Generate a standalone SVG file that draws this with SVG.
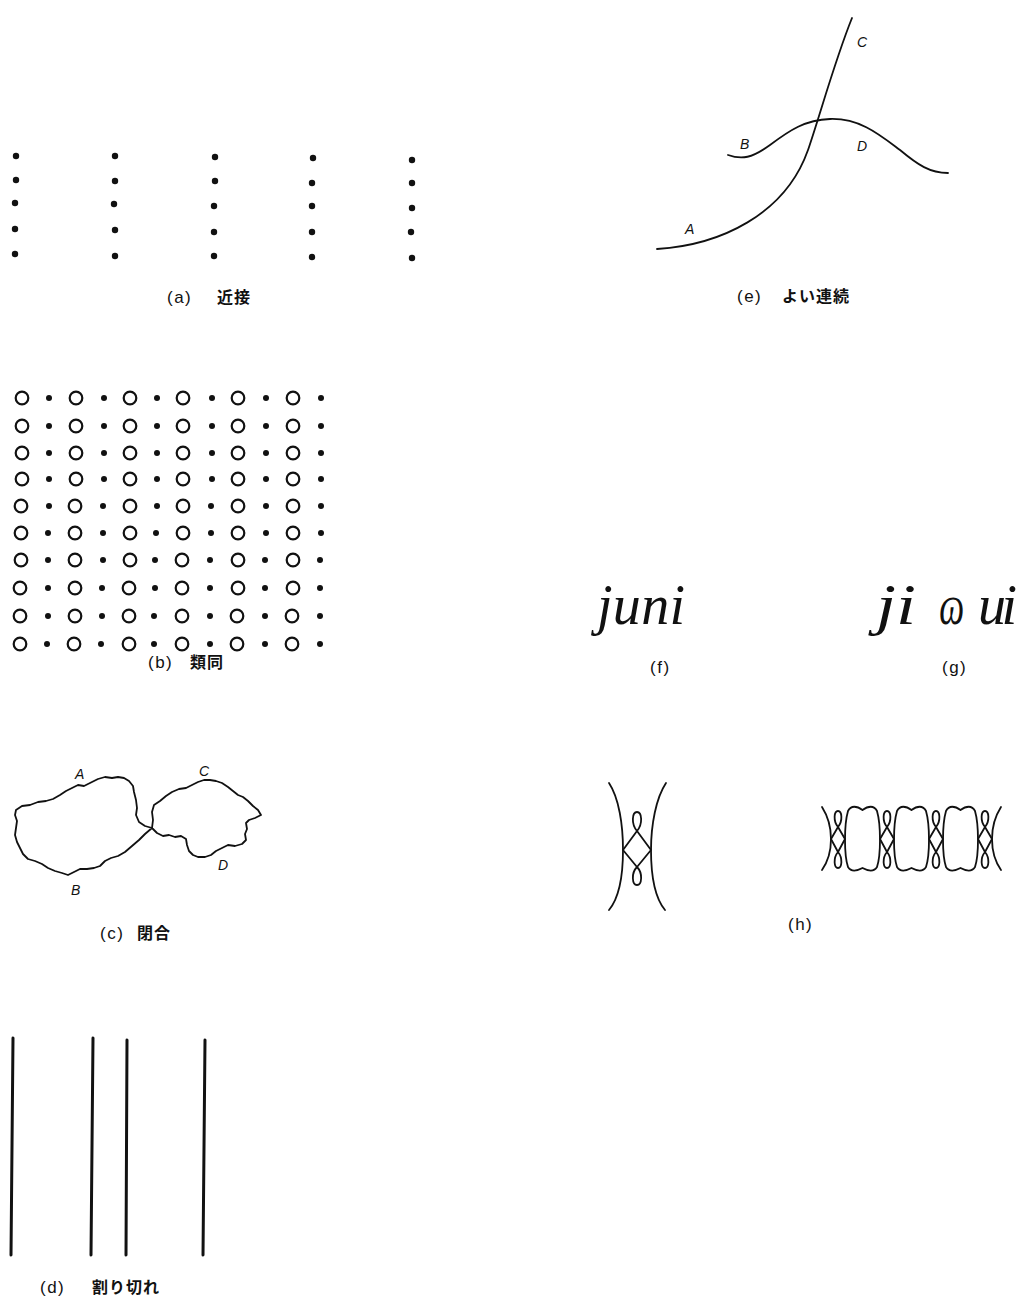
<svg xmlns="http://www.w3.org/2000/svg" width="1017" height="1315" viewBox="0 0 1017 1315">
<style>
.lbl{font-family:"Liberation Sans","Noto Sans CJK JP",sans-serif;font-size:17px;letter-spacing:1.5px;fill:#111}
.jp{font-family:"Noto Sans CJK JP",sans-serif;font-size:16px;letter-spacing:1px;fill:#111;font-weight:bold}
.let{font-family:"Liberation Sans",sans-serif;font-style:italic;font-size:14px;fill:#111}
.hw{font-family:"Liberation Serif","DejaVu Serif",serif;font-style:italic;font-size:56px;fill:#111}
.ln{fill:none;stroke:#111;stroke-width:1.8;stroke-linejoin:round;stroke-linecap:round}
.th{fill:none;stroke:#111;stroke-width:3;stroke-linecap:round}
.dot{fill:#111}
.ring{fill:none;stroke:#111;stroke-width:2.2}
</style>
<rect width="1017" height="1315" fill="#fff"/>

<g id="fig-a">
<circle class="dot" cx="16" cy="156" r="3.2"/><circle class="dot" cx="16" cy="180" r="3.2"/><circle class="dot" cx="15" cy="203" r="3.2"/><circle class="dot" cx="15" cy="229" r="3.2"/><circle class="dot" cx="15" cy="254" r="3.2"/>
<circle class="dot" cx="115" cy="156" r="3.2"/><circle class="dot" cx="115" cy="181" r="3.2"/><circle class="dot" cx="114" cy="204" r="3.2"/><circle class="dot" cx="115" cy="230" r="3.2"/><circle class="dot" cx="115" cy="256" r="3.2"/>
<circle class="dot" cx="215" cy="157" r="3.2"/><circle class="dot" cx="215" cy="181" r="3.2"/><circle class="dot" cx="214" cy="206" r="3.2"/><circle class="dot" cx="214" cy="232" r="3.2"/><circle class="dot" cx="214" cy="256" r="3.2"/>
<circle class="dot" cx="313" cy="158" r="3.2"/><circle class="dot" cx="312" cy="183" r="3.2"/><circle class="dot" cx="312" cy="206" r="3.2"/><circle class="dot" cx="312" cy="232" r="3.2"/><circle class="dot" cx="312" cy="257" r="3.2"/>
<circle class="dot" cx="412" cy="160" r="3.2"/><circle class="dot" cx="412" cy="183" r="3.2"/><circle class="dot" cx="412" cy="208" r="3.2"/><circle class="dot" cx="411" cy="232" r="3.2"/><circle class="dot" cx="412" cy="258" r="3.2"/>
<text class="lbl" x="167" y="303">(a)</text><text class="jp" x="217" y="303">近接</text>
</g>

<g id="fig-b">
<g id="b-rows">
<g transform="translate(0,398)"><circle class="ring" cx="22" cy="0" r="6.3"/><circle class="dot" cx="49" cy="0" r="3"/><circle class="ring" cx="76" cy="0" r="6.3"/><circle class="dot" cx="104" cy="0" r="3"/><circle class="ring" cx="130" cy="0" r="6.3"/><circle class="dot" cx="157" cy="0" r="3"/><circle class="ring" cx="183" cy="0" r="6.3"/><circle class="dot" cx="212" cy="0" r="3"/><circle class="ring" cx="238" cy="0" r="6.3"/><circle class="dot" cx="266" cy="0" r="3"/><circle class="ring" cx="293" cy="0" r="6.3"/><circle class="dot" cx="321" cy="0" r="3"/></g>
<g transform="translate(0,426)"><circle class="ring" cx="22" cy="0" r="6.3"/><circle class="dot" cx="49" cy="0" r="3"/><circle class="ring" cx="76" cy="0" r="6.3"/><circle class="dot" cx="104" cy="0" r="3"/><circle class="ring" cx="130" cy="0" r="6.3"/><circle class="dot" cx="157" cy="0" r="3"/><circle class="ring" cx="183" cy="0" r="6.3"/><circle class="dot" cx="212" cy="0" r="3"/><circle class="ring" cx="238" cy="0" r="6.3"/><circle class="dot" cx="266" cy="0" r="3"/><circle class="ring" cx="293" cy="0" r="6.3"/><circle class="dot" cx="321" cy="0" r="3"/></g>
<g transform="translate(0,453)"><circle class="ring" cx="22" cy="0" r="6.3"/><circle class="dot" cx="49" cy="0" r="3"/><circle class="ring" cx="76" cy="0" r="6.3"/><circle class="dot" cx="104" cy="0" r="3"/><circle class="ring" cx="130" cy="0" r="6.3"/><circle class="dot" cx="157" cy="0" r="3"/><circle class="ring" cx="183" cy="0" r="6.3"/><circle class="dot" cx="212" cy="0" r="3"/><circle class="ring" cx="238" cy="0" r="6.3"/><circle class="dot" cx="266" cy="0" r="3"/><circle class="ring" cx="293" cy="0" r="6.3"/><circle class="dot" cx="321" cy="0" r="3"/></g>
<g transform="translate(0,479)"><circle class="ring" cx="22" cy="0" r="6.3"/><circle class="dot" cx="49" cy="0" r="3"/><circle class="ring" cx="76" cy="0" r="6.3"/><circle class="dot" cx="104" cy="0" r="3"/><circle class="ring" cx="130" cy="0" r="6.3"/><circle class="dot" cx="157" cy="0" r="3"/><circle class="ring" cx="183" cy="0" r="6.3"/><circle class="dot" cx="212" cy="0" r="3"/><circle class="ring" cx="238" cy="0" r="6.3"/><circle class="dot" cx="266" cy="0" r="3"/><circle class="ring" cx="293" cy="0" r="6.3"/><circle class="dot" cx="321" cy="0" r="3"/></g>
<g transform="translate(0,506)"><circle class="ring" cx="21" cy="0" r="6.3"/><circle class="dot" cx="49" cy="0" r="3"/><circle class="ring" cx="75" cy="0" r="6.3"/><circle class="dot" cx="103" cy="0" r="3"/><circle class="ring" cx="130" cy="0" r="6.3"/><circle class="dot" cx="157" cy="0" r="3"/><circle class="ring" cx="183" cy="0" r="6.3"/><circle class="dot" cx="211" cy="0" r="3"/><circle class="ring" cx="238" cy="0" r="6.3"/><circle class="dot" cx="266" cy="0" r="3"/><circle class="ring" cx="293" cy="0" r="6.3"/><circle class="dot" cx="321" cy="0" r="3"/></g>
<g transform="translate(0,533)"><circle class="ring" cx="21" cy="0" r="6.3"/><circle class="dot" cx="48" cy="0" r="3"/><circle class="ring" cx="75" cy="0" r="6.3"/><circle class="dot" cx="103" cy="0" r="3"/><circle class="ring" cx="130" cy="0" r="6.3"/><circle class="dot" cx="156" cy="0" r="3"/><circle class="ring" cx="183" cy="0" r="6.3"/><circle class="dot" cx="211" cy="0" r="3"/><circle class="ring" cx="238" cy="0" r="6.3"/><circle class="dot" cx="266" cy="0" r="3"/><circle class="ring" cx="293" cy="0" r="6.3"/><circle class="dot" cx="321" cy="0" r="3"/></g>
<g transform="translate(0,560)"><circle class="ring" cx="21" cy="0" r="6.3"/><circle class="dot" cx="48" cy="0" r="3"/><circle class="ring" cx="75" cy="0" r="6.3"/><circle class="dot" cx="103" cy="0" r="3"/><circle class="ring" cx="130" cy="0" r="6.3"/><circle class="dot" cx="155" cy="0" r="3"/><circle class="ring" cx="182" cy="0" r="6.3"/><circle class="dot" cx="210" cy="0" r="3"/><circle class="ring" cx="238" cy="0" r="6.3"/><circle class="dot" cx="265" cy="0" r="3"/><circle class="ring" cx="293" cy="0" r="6.3"/><circle class="dot" cx="320" cy="0" r="3"/></g>
<g transform="translate(0,588)"><circle class="ring" cx="20" cy="0" r="6.3"/><circle class="dot" cx="48" cy="0" r="3"/><circle class="ring" cx="75" cy="0" r="6.3"/><circle class="dot" cx="102" cy="0" r="3"/><circle class="ring" cx="129" cy="0" r="6.3"/><circle class="dot" cx="155" cy="0" r="3"/><circle class="ring" cx="182" cy="0" r="6.3"/><circle class="dot" cx="210" cy="0" r="3"/><circle class="ring" cx="238" cy="0" r="6.3"/><circle class="dot" cx="265" cy="0" r="3"/><circle class="ring" cx="293" cy="0" r="6.3"/><circle class="dot" cx="320" cy="0" r="3"/></g>
<g transform="translate(0,616)"><circle class="ring" cx="20" cy="0" r="6.3"/><circle class="dot" cx="48" cy="0" r="3"/><circle class="ring" cx="75" cy="0" r="6.3"/><circle class="dot" cx="102" cy="0" r="3"/><circle class="ring" cx="129" cy="0" r="6.3"/><circle class="dot" cx="154" cy="0" r="3"/><circle class="ring" cx="182" cy="0" r="6.3"/><circle class="dot" cx="210" cy="0" r="3"/><circle class="ring" cx="237" cy="0" r="6.3"/><circle class="dot" cx="265" cy="0" r="3"/><circle class="ring" cx="292" cy="0" r="6.3"/><circle class="dot" cx="320" cy="0" r="3"/></g>
<g transform="translate(0,644)"><circle class="ring" cx="20" cy="0" r="6.3"/><circle class="dot" cx="47" cy="0" r="3"/><circle class="ring" cx="74" cy="0" r="6.3"/><circle class="dot" cx="101" cy="0" r="3"/><circle class="ring" cx="129" cy="0" r="6.3"/><circle class="dot" cx="154" cy="0" r="3"/><circle class="ring" cx="182" cy="0" r="6.3"/><circle class="dot" cx="210" cy="0" r="3"/><circle class="ring" cx="237" cy="0" r="6.3"/><circle class="dot" cx="265" cy="0" r="3"/><circle class="ring" cx="292" cy="0" r="6.3"/><circle class="dot" cx="320" cy="0" r="3"/></g>
</g>
<text class="lbl" x="148" y="668">(b)</text><text class="jp" x="190" y="668">類同</text>
</g>

<g id="fig-c">
<path class="ln" d="M152,828 L145,826 L139,822 L136,815 L137,808 L136,800 L134,792 L133,786 L129,781 L124,778 L118,777 L112,778 L105,777 L98,779 L90,783 L84,786 L78,785 L72,788 L66,791 L60,795 L53,799 L46,801 L38,802 L30,805 L22,806 L16,810 L15,815 L17,821 L16,828 L15,835 L17,842 L20,848 L23,854 L28,859 L35,861 L42,864 L48,868 L55,871 L62,873 L68,875 L74,872 L80,869 L87,869 L94,868 L100,866 L105,861 L111,858 L118,856 L125,852 L132,846 L139,840 L145,834 Z"/>
<path class="ln" d="M152,828 L153,820 L152,812 L154,805 L160,801 L166,796 L172,792 L179,789 L186,788 L192,785 L198,782 L204,780 L210,780 L216,781 L222,783 L228,787 L233,791 L238,795 L243,797 L248,801 L253,806 L258,810 L261,815 L255,818 L249,820 L246,823 L247,829 L245,834 L246,840 L242,844 L235,846 L228,845 L222,848 L216,851 L211,855 L205,857 L198,857 L193,855 L189,851 L187,845 L186,839 L181,836 L175,837 L169,835 L163,836 L157,833 Z"/>
<text class="let" x="75" y="779">A</text>
<text class="let" x="199" y="776">C</text>
<text class="let" x="71" y="895">B</text>
<text class="let" x="218" y="870">D</text>
<text class="lbl" x="100" y="939">(c)</text><text class="jp" x="137" y="939">閉合</text>
</g>

<g id="fig-d">
<line class="th" x1="13" y1="1038" x2="11" y2="1255"/>
<line class="th" x1="93" y1="1038" x2="91" y2="1255"/>
<line class="th" x1="127" y1="1040" x2="126" y2="1255"/>
<line class="th" x1="205" y1="1040" x2="203" y2="1255"/>
<text class="lbl" x="40" y="1293">(d)</text><text class="jp" x="92" y="1293">割り切れ</text>
</g>

<g id="fig-e">
<path class="ln" d="M657,249 C720,245 785,215 808,150 C820,115 835,60 852,18"/>
<path class="ln" d="M728,155 C742,160 752,158 770,145 C790,130 805,120 830,119 C860,118 880,135 900,150 C918,165 930,173 948,173"/>
<text class="let" x="857" y="47">C</text>
<text class="let" x="740" y="149">B</text>
<text class="let" x="857" y="151">D</text>
<text class="let" x="685" y="234">A</text>
<text class="lbl" x="737" y="302">(e)</text><text class="jp" x="782" y="302">よい連続</text>
</g>

<g id="fig-f">
<text class="hw" x="597" y="624" textLength="88" lengthAdjust="spacing">juni</text>
<text class="lbl" x="650" y="673">(f)</text>
</g>

<g id="fig-g">
<text class="hw" x="876" y="624" font-size="62" textLength="40" lengthAdjust="spacingAndGlyphs">ji</text>
<text class="hw" x="939" y="624" font-size="38" textLength="25" lengthAdjust="spacingAndGlyphs">ɷ</text>
<text class="hw" x="978" y="624" textLength="39" lengthAdjust="spacing">ui</text>
<text class="lbl" x="942" y="673">(g)</text>
</g>

<g id="fig-h">
<g id="h-single">
<path class="ln" d="M609,783 C619,798 623,825 623,850 C623,875 619,898 609,910"/>
<path class="ln" d="M666,783 C656,798 651,825 651,850 C651,875 655,898 665,910"/>
<path class="ln" d="M623,850 L637,831 L651,850 L637,867 Z"/>
<path class="ln" d="M637,831 C631,824 632,812 637,812 C642,812 643,824 637,831"/>
<path class="ln" d="M637,867 C631,873 632,885 637,885 C642,885 643,873 637,867"/>
</g>
<g id="h-row">
<path class="ln" d="M822,807 C829,818 831,830 831,839 C831,850 829,860 822,870"/>
<path class="ln" d="M1001,807 C994,818 992,830 992,839 C992,850 994,860 1001,870"/>
<path class="ln" d="M831,839 L838,827 L845,839 L838,852 Z M838,827 C833,821 834,811 838,811 C842,811 843,821 838,827 M838,852 C833,858 834,868 838,868 C842,868 843,858 838,852"/>
<path class="ln" d="M880,839 L887,827 L894,839 L887,852 Z M887,827 C882,821 883,811 887,811 C891,811 892,821 887,827 M887,852 C882,858 883,868 887,868 C891,868 892,858 887,852"/>
<path class="ln" d="M929,839 L936,827 L943,839 L936,852 Z M936,827 C931,821 932,811 936,811 C940,811 941,821 936,827 M936,852 C931,858 932,868 936,868 C940,868 941,858 936,852"/>
<path class="ln" d="M978,839 L985,827 L992,839 L985,852 Z M985,827 C980,821 981,811 985,811 C989,811 990,821 985,827 M985,852 C980,858 981,868 985,868 C989,868 990,858 985,852"/>
<path class="ln" d="M848,811 C851,805 857,806 862.5,810 C868,806 874,805 877,811 C881,825 881,855 877,867 C874,872 868,871 862.5,868 C857,871 851,872 848,867 C844,855 844,825 848,811 Z"/>
<path class="ln" d="M897,811 C900,805 906,806 911.5,810 C917,806 923,805 926,811 C930,825 930,855 926,867 C923,872 917,871 911.5,868 C906,871 900,872 897,867 C893,855 893,825 897,811 Z"/>
<path class="ln" d="M946,811 C949,805 955,806 960.5,810 C966,806 972,805 975,811 C979,825 979,855 975,867 C972,872 966,871 960.5,868 C955,871 949,872 946,867 C942,855 942,825 946,811 Z"/>
</g>
<text class="lbl" x="788" y="930">(h)</text>
</g>
</svg>
